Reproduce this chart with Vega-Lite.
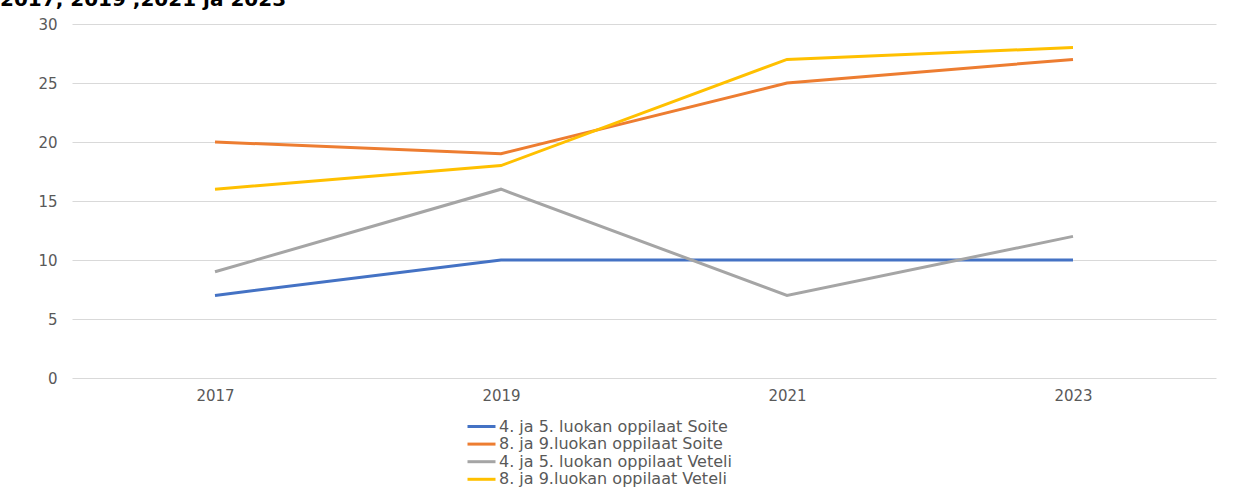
{
  "$schema": "https://vega.github.io/schema/vega-lite/v6.json",
  "width": 1144,
  "height": 354,
  "autosize": {"type": "none"},
  "padding": {"left": 72, "top": 24, "right": 26, "bottom": 112},
  "background": "white",
  "title": {
    "text": "2017, 2019 ,2021 ja 2023",
    "anchor": "start",
    "frame": "group",
    "dx": -72,
    "offset": 0,
    "dy": 9,
    "baseline": "alphabetic",
    "font": "DejaVu Sans",
    "fontSize": 20,
    "fontWeight": "bold",
    "color": "#000000"
  },
  "config": {
    "view": {"stroke": null},
    "font": "DejaVu Sans"
  },
  "data": {
    "values": [
      {"vuosi": "2017", "sarja": "4. ja 5. luokan oppilaat Soite", "arvo": 7},
      {"vuosi": "2019", "sarja": "4. ja 5. luokan oppilaat Soite", "arvo": 10},
      {"vuosi": "2021", "sarja": "4. ja 5. luokan oppilaat Soite", "arvo": 10},
      {"vuosi": "2023", "sarja": "4. ja 5. luokan oppilaat Soite", "arvo": 10},
      {"vuosi": "2017", "sarja": "8. ja 9.luokan oppilaat Soite", "arvo": 20},
      {"vuosi": "2019", "sarja": "8. ja 9.luokan oppilaat Soite", "arvo": 19},
      {"vuosi": "2021", "sarja": "8. ja 9.luokan oppilaat Soite", "arvo": 25},
      {"vuosi": "2023", "sarja": "8. ja 9.luokan oppilaat Soite", "arvo": 27},
      {"vuosi": "2017", "sarja": "4. ja 5. luokan oppilaat Veteli", "arvo": 9},
      {"vuosi": "2019", "sarja": "4. ja 5. luokan oppilaat Veteli", "arvo": 16},
      {"vuosi": "2021", "sarja": "4. ja 5. luokan oppilaat Veteli", "arvo": 7},
      {"vuosi": "2023", "sarja": "4. ja 5. luokan oppilaat Veteli", "arvo": 12},
      {"vuosi": "2017", "sarja": "8. ja 9.luokan oppilaat Veteli", "arvo": 16},
      {"vuosi": "2019", "sarja": "8. ja 9.luokan oppilaat Veteli", "arvo": 18},
      {"vuosi": "2021", "sarja": "8. ja 9.luokan oppilaat Veteli", "arvo": 27},
      {"vuosi": "2023", "sarja": "8. ja 9.luokan oppilaat Veteli", "arvo": 28}
    ]
  },
  "mark": {"type": "line", "strokeWidth": 3},
  "encoding": {
    "x": {
      "field": "vuosi",
      "type": "ordinal",
      "scale": {"type": "point", "padding": 0.5},
      "axis": {
        "title": null,
        "labelAngle": 0,
        "domain": false,
        "ticks": false,
        "labelPadding": 10,
        "labelFontSize": 15,
        "labelColor": "#595959",
        "labelFont": "DejaVu Sans"
      }
    },
    "y": {
      "field": "arvo",
      "type": "quantitative",
      "scale": {"domain": [0, 30], "nice": false},
      "axis": {
        "title": null,
        "values": [0, 5, 10, 15, 20, 25, 30],
        "domain": false,
        "ticks": false,
        "labelPadding": 15,
        "labelFontSize": 15,
        "labelColor": "#595959",
        "labelFont": "DejaVu Sans",
        "gridColor": "#d9d9d9",
        "gridWidth": 1
      }
    },
    "color": {
      "field": "sarja",
      "type": "nominal",
      "scale": {
        "domain": [
          "4. ja 5. luokan oppilaat Soite",
          "8. ja 9.luokan oppilaat Soite",
          "4. ja 5. luokan oppilaat Veteli",
          "8. ja 9.luokan oppilaat Veteli"
        ],
        "range": ["#4472C4", "#ED7D31", "#A5A5A5", "#FFC000"]
      },
      "legend": {
        "title": null,
        "orient": "none",
        "legendX": 401,
        "legendY": 394,
        "symbolType": "M-2,0H2",
        "symbolSize": 196,
        "symbolStrokeWidth": 3,
        "labelFontSize": 16,
        "labelColor": "#595959",
        "labelFont": "DejaVu Sans",
        "labelLimit": 400,
        "labelOffset": 9,
        "rowPadding": 0.6
      }
    }
  }
}
